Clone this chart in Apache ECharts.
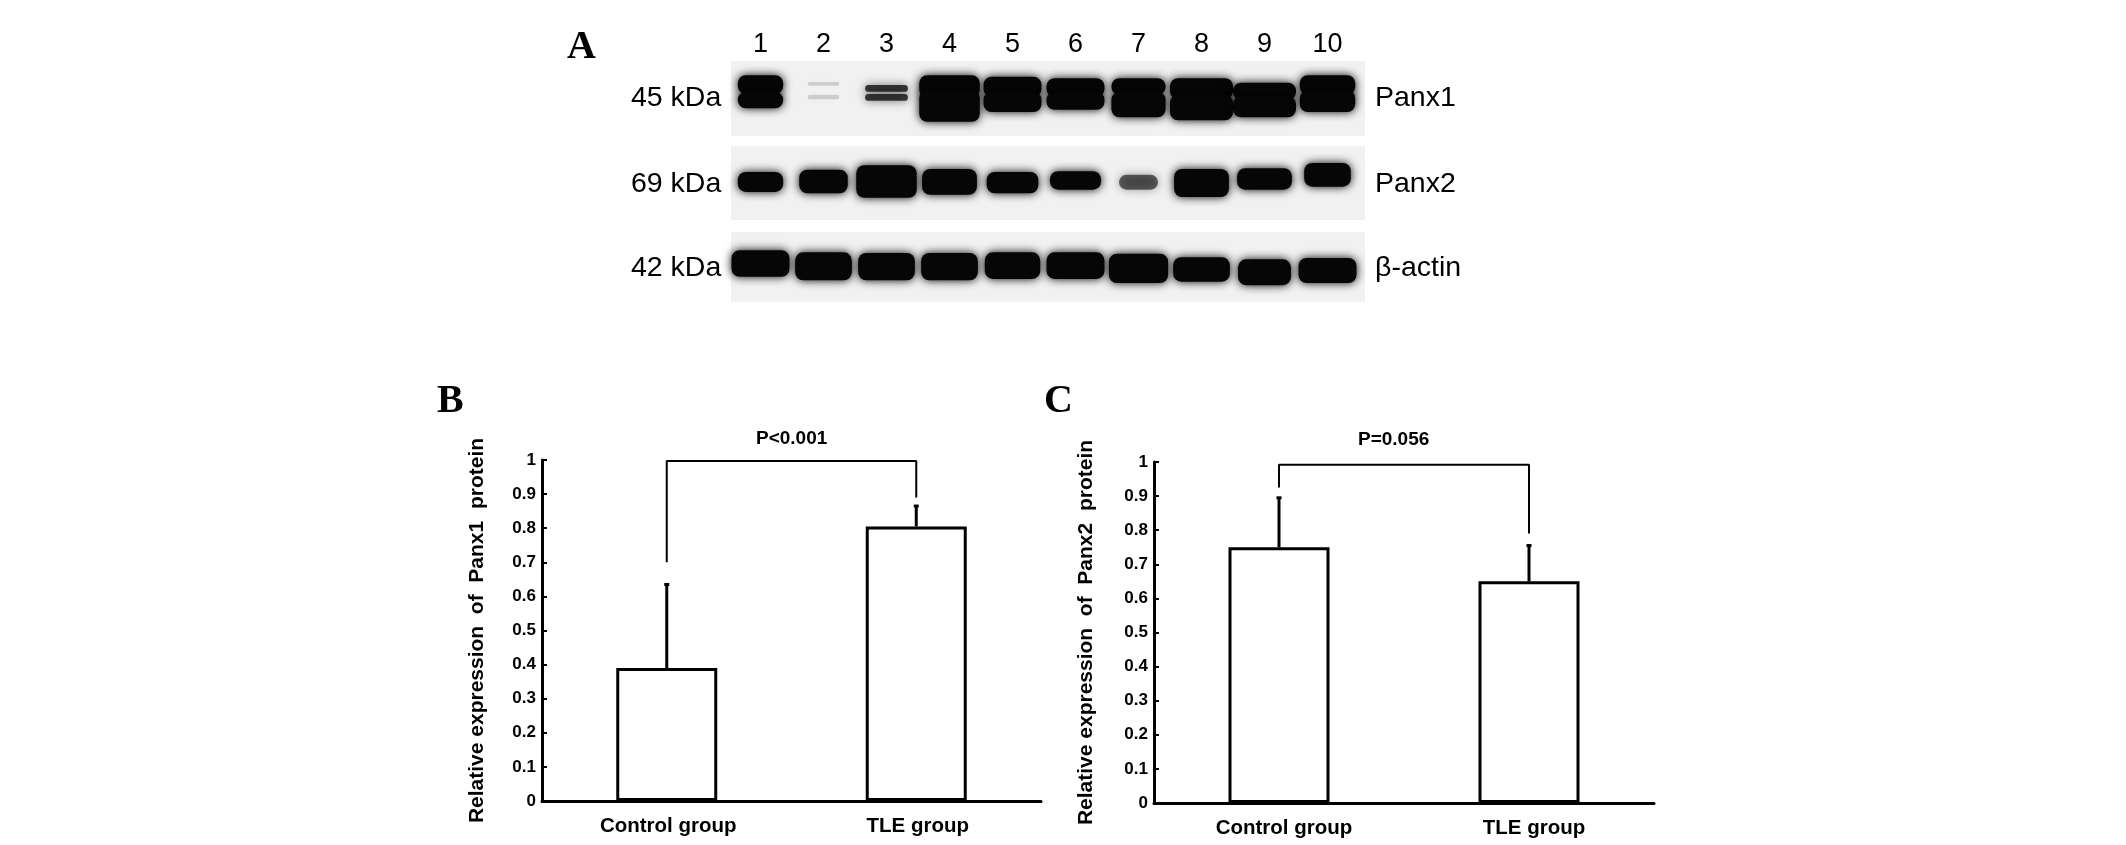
<!DOCTYPE html>
<html>
<head>
<meta charset="utf-8">
<title>Panx1 and Panx2 expression</title>
<script src="https://cdn.jsdelivr.net/npm/echarts@6/dist/echarts.min.js"></script>
<style>
  html, body { margin: 0; background: #fff; }
  #chart { width: 2126px; height: 845px; }
</style>
</head>
<body>
<div id="chart"></div>
<script>
const lanes = ['1', '2', '3', '4', '5', '6', '7', '8', '9', '10']

// blot bands, read as % of strip height, width as share of a lane
const panx1UpperTop = [19, 28, 32, 19, 21, 23, 23, 23, 29, 19]
const panx1UpperBottom = [44, 33, 41, 49, 48, 48, 45, 51, 52, 45]
const panx1LowerTop = [41, 45, 44, 39, 41, 41, 41, 45, 47, 39]
const panx1LowerBottom = [63, 51, 53, 81, 68, 65, 75, 79, 75, 68]
const panx1Width = [0.72, 0.5, 0.68, 0.96, 0.92, 0.92, 0.86, 1, 1, 0.88]
const panx1Density = [1, 0.15, 0.75, 1, 1, 1, 1, 1, 1, 1]

const panx2Top = [35, 32, 26, 31, 35, 34, 39, 31, 30, 23]
const panx2Bottom = [62, 64, 70, 66, 64, 59, 59, 69, 59, 55]
const panx2Width = [0.72, 0.77, 0.96, 0.87, 0.82, 0.81, 0.62, 0.87, 0.87, 0.74]
const panx2Density = [1, 1, 1, 1, 1, 1, 0.6, 1, 1, 1]

const actinTop = [26, 29, 30, 30, 29, 29, 31, 36, 39, 37]
const actinBottom = [64, 69, 69, 69, 67, 67, 73, 71, 76, 73]
const actinWidth = [0.92, 0.9, 0.9, 0.9, 0.88, 0.92, 0.94, 0.9, 0.84, 0.92]
const actinDensity = [1, 1, 1, 1, 1, 1, 1, 1, 1, 1]

const groups = ['Control group', 'TLE group']
const panx1Means = [0.39, 0.805]
const panx1Errors = [0.245, 0.06]
const panx2Means = [0.75, 0.65]
const panx2Errors = [0.145, 0.105]
const panx1Bracket = [[0, 0.7], [0, 0.997], [1, 0.997], [1, 0.89]]
const panx2Bracket = [[0, 0.925], [0, 0.992], [1, 0.992], [1, 0.79]]

const sans = '"Liberation Sans", Arial, sans-serif'
const serif = '"Liberation Serif", "Times New Roman", serif'

function bandSeries(gridIndex, top, bottom, width, density) {
  return {
    type: 'custom',
    xAxisIndex: gridIndex,
    yAxisIndex: gridIndex,
    clip: false,
    silent: true,
    data: lanes.map((_, i) => [i, top[i], bottom[i], width[i], density[i]]),
    encode: { x: 0, y: 1 },
    renderItem(params, api) {
      const a = api.coord([api.value(0), api.value(1)])
      const b = api.coord([api.value(0), api.value(2)])
      const w = api.size([1, 0])[0] * api.value(3)
      const d = api.value(4)
      return {
        type: 'rect',
        shape: { x: a[0] - w / 2, y: a[1], width: w, height: b[1] - a[1], r: 8 },
        style: { fill: `rgba(6,6,6,${d})`, shadowBlur: 10, shadowColor: `rgba(0,0,0,${d})` }
      }
    }
  }
}

function barSeries(gridIndex, values) {
  return {
    type: 'bar',
    xAxisIndex: gridIndex,
    yAxisIndex: gridIndex,
    barWidth: 101,
    data: values,
    itemStyle: { color: '#fff', borderColor: '#000', borderWidth: 3 },
    silent: true
  }
}

function errorSeries(gridIndex, values, errors) {
  return {
    type: 'custom',
    xAxisIndex: gridIndex,
    yAxisIndex: gridIndex,
    data: values.map((v, i) => [i, v, v + errors[i]]),
    encode: { x: 0, y: [1, 2] },
    silent: true,
    z: 3,
    renderItem(params, api) {
      const a = api.coord([api.value(0), api.value(1)])
      const b = api.coord([api.value(0), api.value(2)])
      return {
        type: 'group',
        children: [
          { type: 'line', shape: { x1: a[0], y1: a[1], x2: b[0], y2: b[1] }, style: { stroke: '#000', lineWidth: 3 } },
          { type: 'line', shape: { x1: b[0] - 2.5, y1: b[1], x2: b[0] + 2.5, y2: b[1] }, style: { stroke: '#000', lineWidth: 3 } }
        ]
      }
    }
  }
}

function bracketSeries(gridIndex, points) {
  return {
    type: 'line',
    xAxisIndex: gridIndex,
    yAxisIndex: gridIndex,
    data: points,
    symbol: 'none',
    silent: true,
    z: 4,
    lineStyle: { color: '#000', width: 2 }
  }
}

function text(content, left, top, font, size, weight) {
  return {
    text: content,
    left,
    top,
    textStyle: { fontFamily: font, fontSize: size, fontWeight: weight, color: '#000' }
  }
}

// lanes sit a little left of the film strip's centre, so the strip is its own rect
const stripRects = [
  { y: 61, height: 75 },
  { y: 146, height: 74 },
  { y: 232, height: 70 }
]

const stripGrids = stripRects.map(r => ({ left: 729, width: 630, top: r.y, height: r.height }))

const chartGrids = [
  { left: 542, width: 499, top: 460, height: 341 },
  { left: 1154, width: 500, top: 462, height: 341 }
]

const stripX = stripGrids.map((_, i) => ({
  type: 'category',
  gridIndex: i,
  data: lanes,
  position: 'top',
  axisLine: { show: false },
  axisTick: { show: false },
  axisLabel: { show: i === 0, color: '#000', fontFamily: sans, fontSize: 27, margin: 3 }
}))

const stripY = stripGrids.map((_, i) => ({
  type: 'value',
  gridIndex: i,
  inverse: true,
  min: 0,
  max: 100,
  show: false
}))

const chartX = chartGrids.map((_, i) => ({
  type: 'category',
  gridIndex: i + 3,
  data: groups,
  axisLine: { lineStyle: { color: '#000', width: 3 } },
  axisTick: { inside: true, length: 6, lineStyle: { color: '#000', width: 2 } },
  axisLabel: { color: '#000', fontFamily: sans, fontWeight: 'bold', fontSize: 20.5, margin: 15, padding: [0, 0, 0, i === 0 ? 3 : 10] }
}))

const chartY = ['Relative expression  of  Panx1  protein', 'Relative expression  of  Panx2  protein'].map((name, i) => ({
  type: 'value',
  gridIndex: i + 3,
  min: 0,
  max: 1,
  interval: 0.1,
  name,
  nameLocation: 'middle',
  nameRotate: 90,
  nameGap: i === 0 ? 54 : 57,
  nameTextStyle: { color: '#000', fontFamily: sans, fontWeight: 'bold', fontSize: 21 },
  splitLine: { show: false },
  axisLine: { show: true, lineStyle: { color: '#000', width: 3 } },
  axisTick: { show: true, inside: true, length: 5, lineStyle: { color: '#000', width: 2 } },
  axisLabel: { color: '#000', fontFamily: sans, fontWeight: 'bold', fontSize: 17, margin: 6 }
}))

const chart = echarts.init(document.getElementById('chart'), null, { renderer: 'canvas' })
chart.setOption({
  animation: false,
  backgroundColor: '#fff',
  graphic: stripRects.map(r => ({
    type: 'rect',
    z: -1,
    silent: true,
    shape: { x: 731, y: r.y, width: 634, height: r.height },
    style: { fill: '#f1f1f1' }
  })),
  title: [
    text('A', 562, 23, serif, 40, 'bold'),
    text('B', 432, 377, serif, 40, 'bold'),
    text('C', 1039, 377, serif, 40, 'bold'),
    text('45 kDa', 626, 79, sans, 28.5, 'normal'),
    text('69 kDa', 626, 165, sans, 28.5, 'normal'),
    text('42 kDa', 626, 249, sans, 28.5, 'normal'),
    text('Panx1', 1370, 79, sans, 28.5, 'normal'),
    text('Panx2', 1370, 165, sans, 28.5, 'normal'),
    text('β-actin', 1370, 249, sans, 28.5, 'normal'),
    text('P<0.001', 751, 424, sans, 19, 'bold'),
    text('P=0.056', 1353, 425, sans, 19, 'bold')
  ],
  grid: [...stripGrids, ...chartGrids],
  xAxis: [...stripX, ...chartX],
  yAxis: [...stripY, ...chartY],
  series: [
    bandSeries(0, panx1UpperTop, panx1UpperBottom, panx1Width, panx1Density),
    bandSeries(0, panx1LowerTop, panx1LowerBottom, panx1Width, panx1Density),
    bandSeries(1, panx2Top, panx2Bottom, panx2Width, panx2Density),
    bandSeries(2, actinTop, actinBottom, actinWidth, actinDensity),
    barSeries(3, panx1Means),
    errorSeries(3, panx1Means, panx1Errors),
    bracketSeries(3, panx1Bracket),
    barSeries(4, panx2Means),
    errorSeries(4, panx2Means, panx2Errors),
    bracketSeries(4, panx2Bracket)
  ]
})
</script>
</body>
</html>
